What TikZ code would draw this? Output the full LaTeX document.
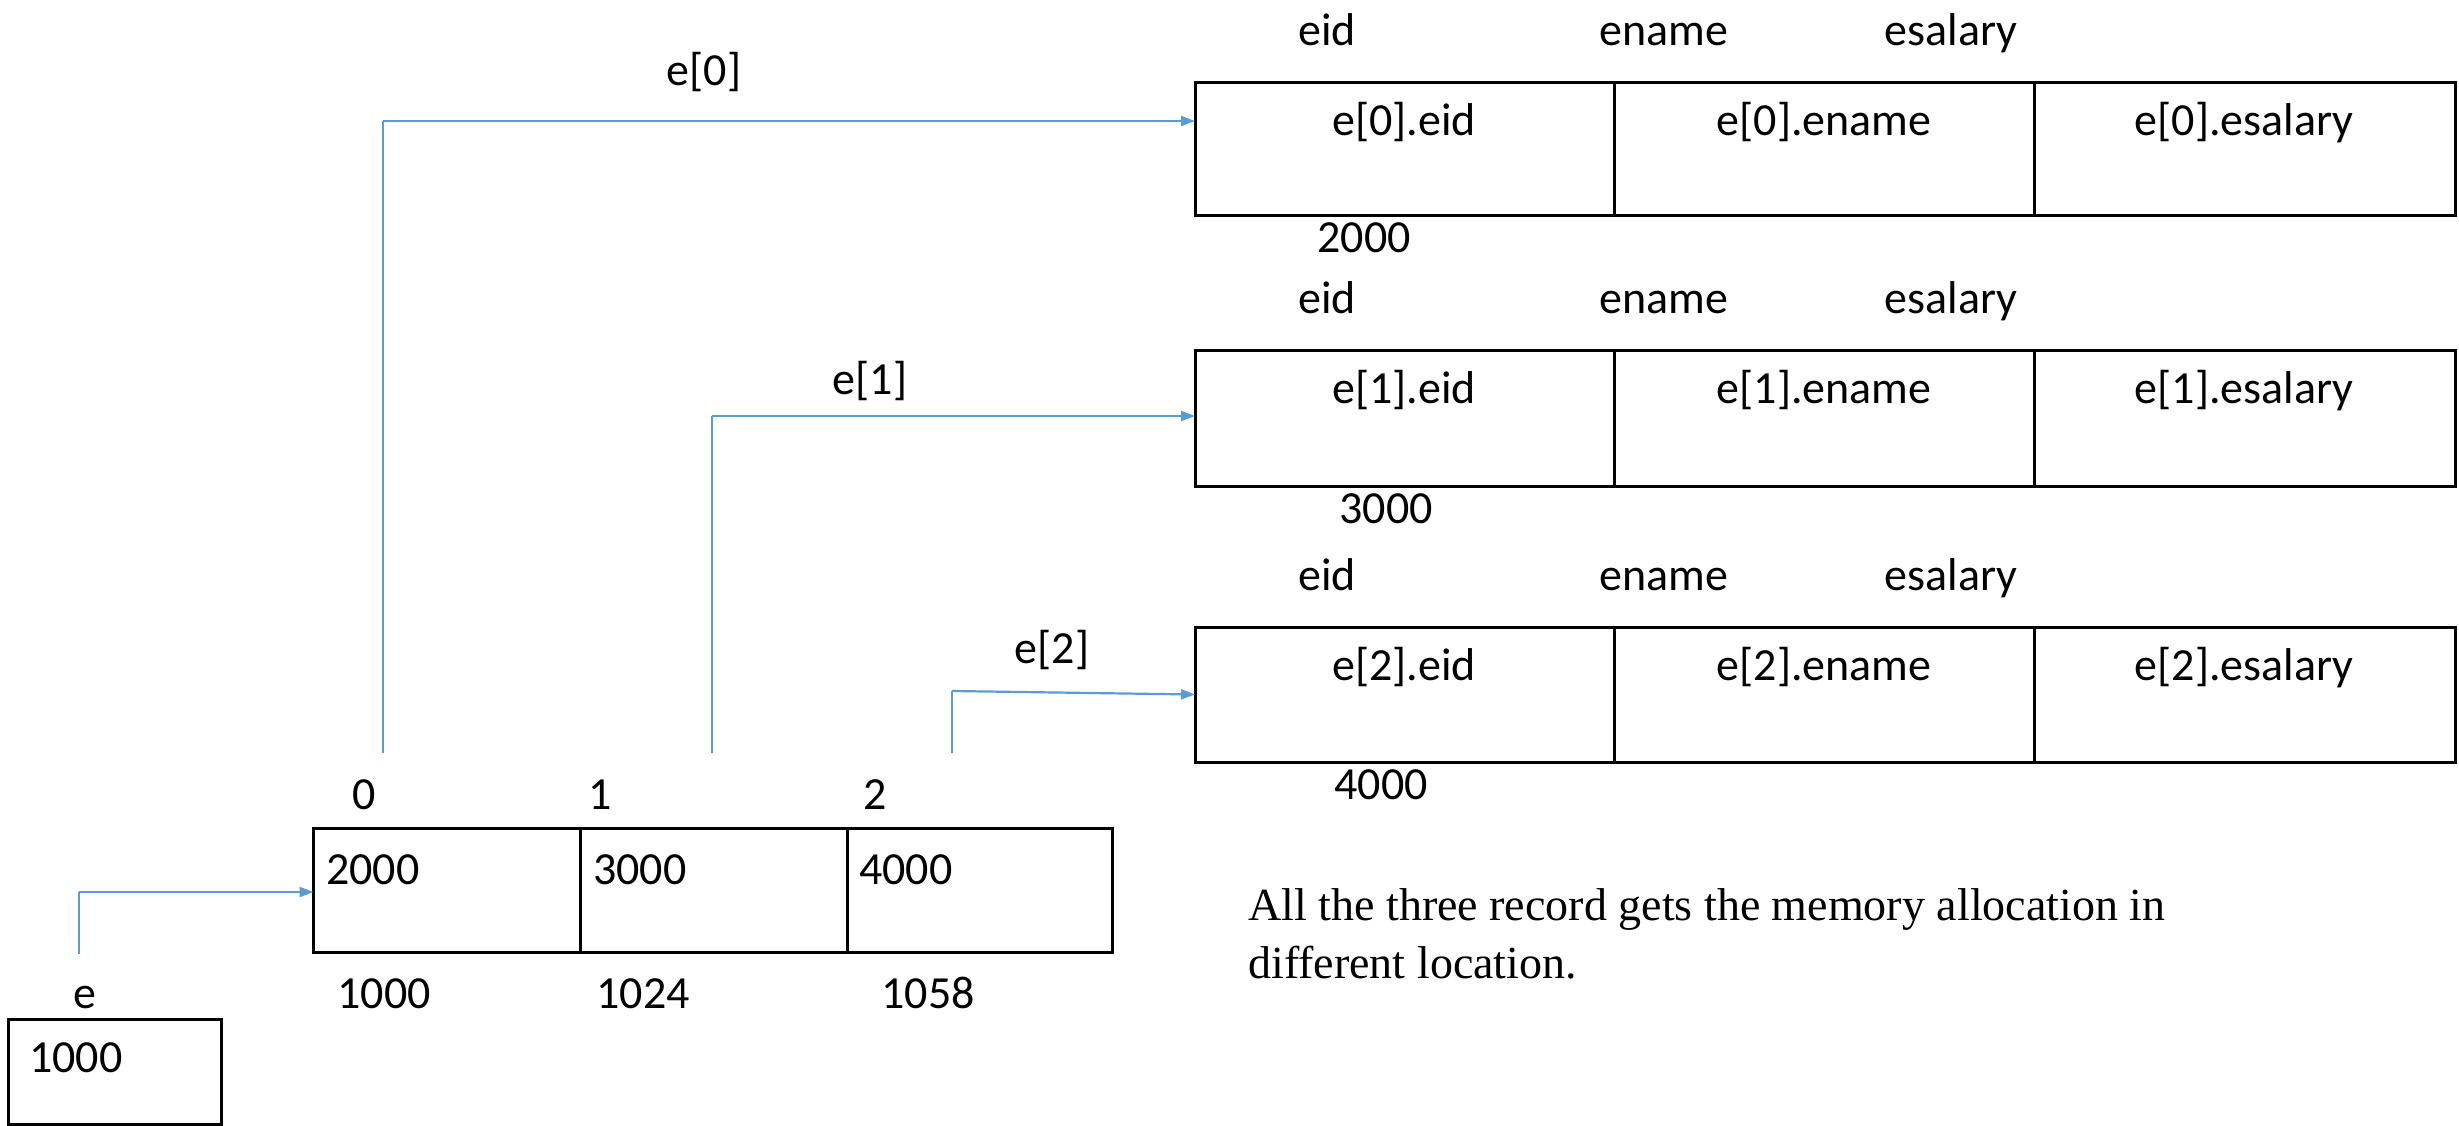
\documentclass[tikz,border=0pt]{standalone}
\usepackage{fontspec}
\setmainfont{Carlito}
\newfontfamily\capfont{Liberation Serif}
\usetikzlibrary{arrows.meta}
\definecolor{ptrblue}{RGB}{91,155,213}
\begin{document}
\begin{tikzpicture}[x=1pt,y=-1pt,
  cell/.style={draw=black,line width=3pt,minimum width=#1,inner sep=0pt,outer sep=0pt},
  txt/.style={inner sep=0pt,anchor=base,font=\fontsize{46}{55}\selectfont},
  ltxt/.style={txt,anchor=base west},
  ptr/.style={draw=ptrblue,line width=2.2pt,-{Triangle[length=14pt,width=10pt]}},
  stem/.style={draw=ptrblue,line width=2.2pt}]
\useasboundingbox (0,0) rectangle (2459,1125);

% three structure records, one row per array element
\foreach \r/\ya/\yb/\addr/\ax in {0/82/215/2000/1364, 1/350/486/3000/1386, 2/627/762/4000/1381}{
  \pgfmathsetmacro{\yc}{(\ya+\yb)/2}
  \pgfmathsetmacro{\h}{\yb-\ya}
  \node[cell=419,minimum height=\h] (r\r a) at (1404.5,\yc) {};
  \node[cell=420,minimum height=\h] (r\r b) at (1824,\yc) {};
  \node[cell=421,minimum height=\h] (r\r c) at (2244.5,\yc) {};
  \node[txt] (r\r ta) at (1404,\ya+53) {e[\r].eid};
  \node[txt] (r\r tb) at (1824,\ya+53) {e[\r].ename};
  \node[txt] (r\r tc) at (2244,\ya+53) {e[\r].esalary};
  \node[txt] (h\r a) at (1327,\ya-37) {eid};
  \node[txt] (h\r b) at (1664,\ya-37) {ename};
  \node[txt] (h\r c) at (1951,\ya-37) {esalary};
  \node[txt] (ad\r) at (\ax,\yb+37) {\addr};
}

% array of pointers e[0..2]
\node[cell=267,minimum height=124] (a0) at (447,890) {};
\node[cell=267,minimum height=124] (a1) at (713.5,890) {};
\node[cell=265,minimum height=124] (a2) at (979.5,890) {};
\node[ltxt] (v0) at (326,884) {2000};
\node[ltxt] (v1) at (593,884) {3000};
\node[ltxt] (v2) at (859,884) {4000};
\node[txt] (i0) at (364,809) {0};
\node[txt] (i1) at (600,809) {1};
\node[txt] (i2) at (875,809) {2};
\node[txt] (m0) at (384,1008) {1000};
\node[txt] (m1) at (643,1008) {1024};
\node[txt] (m2) at (928,1008) {1058};

% pointer variable e
\node[cell=213,minimum height=105] (ebox) at (114.5,1071.5) {};
\node[ltxt] (ev) at (29,1072) {1000};
\node[txt] (el) at (85,1008) {e};

% pointer links
\coordinate (es) at (79,954);
\coordinate (ek) at (79,892);
\draw[stem] (es) -- (ek);
\draw[ptr] (ek) -- (ek -| a0.west);

\coordinate (s0) at (383,753);
\coordinate (k0) at (383,121);
\draw[stem] (s0) -- (k0);
\draw[ptr] (k0) -- (k0 -| r0a.west);
\node[txt] (l0) at (704,85) {e[0]};

\coordinate (s1) at (712,753);
\coordinate (k1) at (712,416);
\draw[stem] (s1) -- (k1);
\draw[ptr] (k1) -- (k1 -| r1a.west);
\node[txt] (l1) at (870,394) {e[1]};

\coordinate (s2) at (952,753);
\coordinate (k2) at (952,691);
\draw[stem] (s2) -- (k2);
\draw[ptr] (k2) -- (r2a.west);
\node[txt] (l2) at (1052,663) {e[2]};

% note (base anchor sits on the last line)
\node[inner sep=0pt,anchor=base west,align=left,font=\capfont\fontsize{46}{58}\selectfont] (note) at (1248,978)
  {All the three record gets the memory allocation in\\different location.};
\end{tikzpicture}
\end{document}
